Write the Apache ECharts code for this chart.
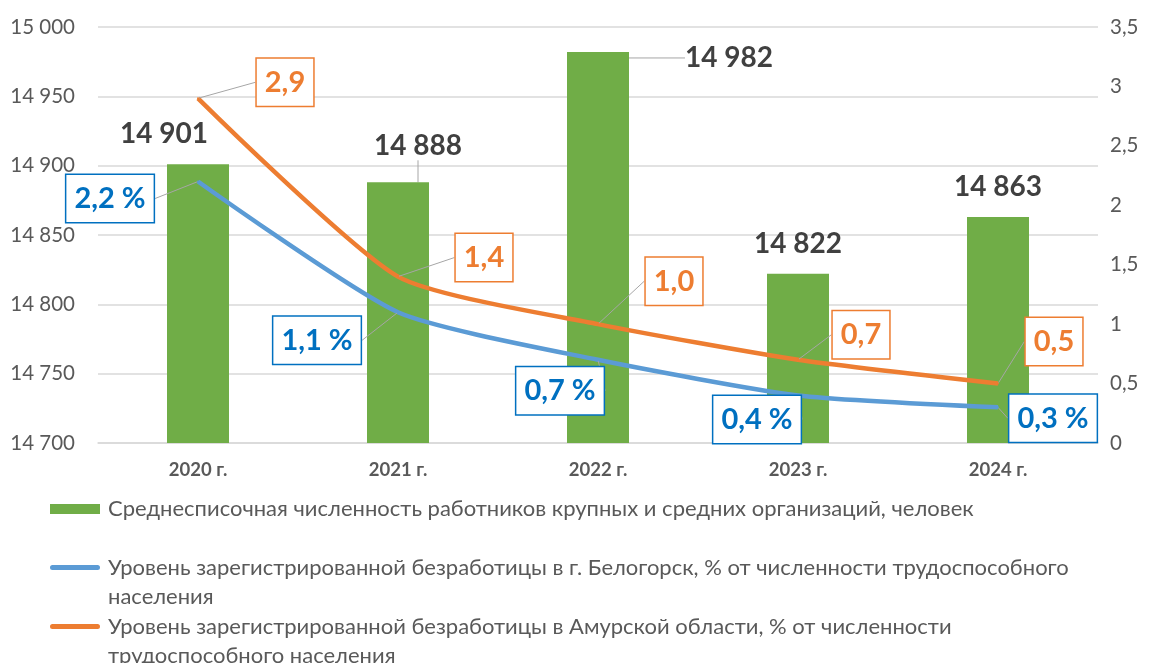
<!DOCTYPE html>
<html>
<head>
<meta charset="utf-8">
<script src="https://cdn.jsdelivr.net/npm/echarts@6/dist/echarts.min.js"></script>
<style>
  html, body { margin: 0; padding: 0; background: #fff; }
  #chart { width: 1152px; height: 663px; }
</style>
</head>
<body>
<div id="chart"></div>
<script>
// data
const years = ['2020 г.', '2021 г.', '2022 г.', '2023 г.', '2024 г.']
const workers = [14901, 14888, 14982, 14822, 14863]
const belogorskRate = [2.2, 1.1, 0.7, 0.4, 0.3]
const amurRate = [2.9, 1.4, 1.0, 0.7, 0.5]

const seriesNames = [
  'Среднесписочная численность работников крупных и средних организаций, человек',
  'Уровень зарегистрированной безработицы в г. Белогорск, % от численности трудоспособного населения',
  'Уровень зарегистрированной безработицы в Амурской области, % от численности трудоспособного населения',
]
// how the legend wraps each name
const legendText = [
  seriesNames[0],
  'Уровень зарегистрированной безработицы в г. Белогорск, % от численности трудоспособного\nнаселения',
  'Уровень зарегистрированной безработицы в Амурской области, % от численности\nтрудоспособного населения',
]

// callout offsets (px) – where Excel moved the labels
const barLabelShift = [[-34, 0], [20, -6], [131, 36], [0, 0], [0, 0]]
const barLeader = [false, true, true, false, false]
const blueLabelShift = [[-88, 17], [-81, 28], [-38, 31], [-41, 24], [55, 11]]
const orangeLabelShift = [[87, -16], [86, -19], [76, -43], [63, -25], [56, -42]]

const FONT = 'Lato, "Noto Sans", sans-serif'
const GREEN = '#70AD47'
const BLUE = '#5B9BD5'
const ORANGE = '#ED7D31'
const TEXT = '#595959'

const fmtThousands = v => String(v).replace(/\B(?=(\d{3})+(?!\d))/g, ' ')
const fmtDec = v => v.toFixed(1).replace('.', ',')

// line icon sitting on the first text line, box stretched to the 2-line text height
const lineIcon = 'path://M0,0L0.01,0M2.5,12L47.5,12A2.5,2.5 0 0 1 47.5,17L2.5,17A2.5,2.5 0 0 1 2.5,12ZM50,58L49.99,58'

const chart = echarts.init(document.getElementById('chart'))

const legendBase = {
  left: 50,
  padding: 0,
  orient: 'vertical',
  selectedMode: false,
  itemWidth: 50,
  formatter: name => legendText[seriesNames.indexOf(name)],
  textStyle: { color: TEXT, fontSize: 22, lineHeight: 29, fontFamily: FONT, padding: [0, 0, 0, 3] },
}

const calloutLine = { show: true, lineStyle: { color: '#a6a6a6', width: 1 } }

const option = {
  animation: false,
  textStyle: { fontFamily: FONT },
  grid: { left: 98, right: 54, top: 27, bottom: 220 },
  legend: [
    { ...legendBase, top: 494.5, itemHeight: 10, icon: 'rect', data: [seriesNames[0]] },
    { ...legendBase, top: 553, itemHeight: 58, icon: lineIcon, data: [seriesNames[1]] },
    { ...legendBase, top: 612, itemHeight: 58, icon: lineIcon, data: [seriesNames[2]] },
  ],
  xAxis: {
    type: 'category',
    data: years,
    axisLine: { lineStyle: { color: '#d9d9d9', width: 1.5 } },
    axisTick: { show: false },
    axisLabel: { color: TEXT, fontSize: 18.5, fontWeight: 'bold', margin: 18, fontFamily: FONT },
  },
  yAxis: [
    {
      type: 'value',
      min: 14700,
      max: 15000,
      interval: 50,
      axisLine: { show: false },
      axisTick: { show: false },
      splitLine: { lineStyle: { color: '#d9d9d9', width: 1.5 } },
      axisLabel: { color: TEXT, fontSize: 20.5, margin: 23, formatter: fmtThousands, fontFamily: FONT },
    },
    {
      type: 'value',
      min: 0,
      max: 3.5,
      interval: 0.5,
      alignTicks: false,
      axisLine: { show: false },
      axisTick: { show: false },
      splitLine: { show: false },
      axisLabel: { color: TEXT, fontSize: 20.5, margin: 12, fontFamily: FONT, formatter: v => String(v).replace('.', ',') },
    },
  ],
  series: [
    {
      name: seriesNames[0],
      type: 'bar',
      barWidth: '31%',
      itemStyle: { color: GREEN },
      data: workers.map((v, i) => ({ value: v, labelLine: { show: barLeader[i] } })),
      label: {
        show: true,
        position: 'top',
        distance: 16,
        color: '#404040',
        fontSize: 28,
        fontWeight: 'bold',
        fontFamily: FONT,
        formatter: p => fmtThousands(p.value),
      },
      labelLine: calloutLine,
      labelLayout: p => ({ dx: barLabelShift[p.dataIndex][0], dy: barLabelShift[p.dataIndex][1] }),
    },
    {
      name: seriesNames[1],
      type: 'line',
      yAxisIndex: 1,
      smooth: 0.2,
      symbol: 'circle',
      symbolSize: 2,
      itemStyle: { color: BLUE },
      lineStyle: { color: BLUE, width: 4.5 },
      data: belogorskRate,
      label: {
        show: true,
        position: 'inside',
        color: '#0070C0',
        fontSize: 29,
        fontWeight: 'bold',
        fontFamily: FONT,
        backgroundColor: '#fff',
        borderColor: '#0070C0',
        borderWidth: 1.5,
        padding: [10, 8, 8, 8],
        formatter: p => fmtDec(p.value) + ' %',
      },
      labelLine: calloutLine,
      labelLayout: p => ({ dx: blueLabelShift[p.dataIndex][0], dy: blueLabelShift[p.dataIndex][1] }),
    },
    {
      name: seriesNames[2],
      type: 'line',
      yAxisIndex: 1,
      smooth: 0.2,
      symbol: 'circle',
      symbolSize: 2,
      itemStyle: { color: ORANGE },
      lineStyle: { color: ORANGE, width: 4.5 },
      data: amurRate,
      label: {
        show: true,
        position: 'inside',
        color: ORANGE,
        fontSize: 29,
        fontWeight: 'bold',
        fontFamily: FONT,
        backgroundColor: '#fff',
        borderColor: ORANGE,
        borderWidth: 1.5,
        padding: [10, 8, 8, 8],
        formatter: p => fmtDec(p.value),
      },
      labelLine: calloutLine,
      labelLayout: p => ({ dx: orangeLabelShift[p.dataIndex][0], dy: orangeLabelShift[p.dataIndex][1] }),
    },
  ],
}

chart.setOption(option)
window.addEventListener('resize', () => chart.resize())
</script>
</body>
</html>
